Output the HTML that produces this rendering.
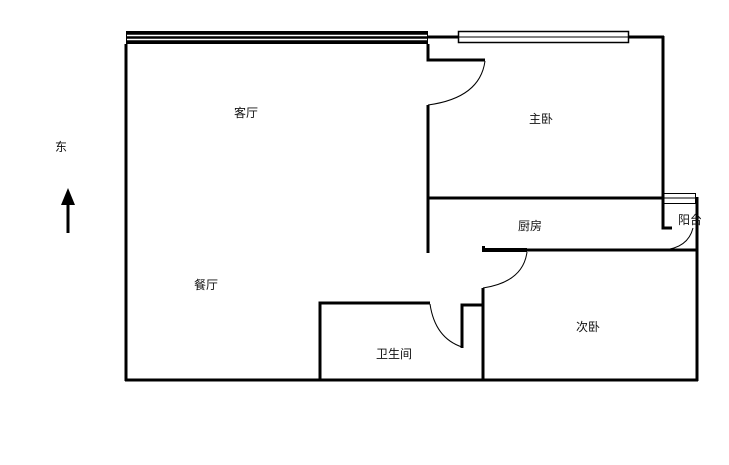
<!DOCTYPE html>
<html><head><meta charset="utf-8"><style>html,body{margin:0;padding:0;background:#fff}svg{display:block}text{font-family:"Liberation Sans","Noto Sans CJK SC",sans-serif;font-size:12px;fill:#111;text-anchor:middle}</style></head><body>
<svg width="729" height="465" viewBox="0 0 729 465" xmlns="http://www.w3.org/2000/svg">
<g stroke="#000" fill="none">
<rect x="126" y="31" width="302" height="13" fill="#000" stroke="none"/>
<line x1="127" y1="35.5" x2="427" y2="35.5" stroke="#fff" stroke-width="1.5"/>
<line x1="127" y1="39.5" x2="427" y2="39.5" stroke="#fff" stroke-width="1.5"/>
<line x1="428" y1="37" x2="458" y2="37" stroke-width="3"/>
<rect x="458.5" y="31.5" width="170" height="11" stroke-width="1.5"/>
<line x1="459" y1="37" x2="628" y2="37" stroke-width="1"/>
<line x1="628" y1="37" x2="664" y2="37" stroke-width="3"/>
<line x1="663" y1="36" x2="663" y2="198" stroke-width="3"/>
<line x1="126" y1="44" x2="126" y2="381" stroke-width="3"/>
<line x1="125" y1="380" x2="698" y2="380" stroke-width="3"/>
<polyline points="428,44 428,60 485,60" stroke-width="3"/>
<path d="M485,61 Q480,98 428,105" stroke-width="1"/>
<line x1="428" y1="105" x2="428" y2="253" stroke-width="3"/>
<line x1="428" y1="198" x2="663" y2="198" stroke-width="3"/>
<rect x="663.5" y="193.5" width="32" height="10" stroke-width="1"/>
<line x1="664" y1="198" x2="696" y2="198" stroke-width="1"/>
<line x1="697" y1="197" x2="697" y2="381" stroke-width="3"/>
<polyline points="663,198 663,228 672,228" stroke-width="3"/>
<path d="M693,228 Q688,248 663,250" stroke-width="1"/>
<line x1="483" y1="250" x2="527" y2="250" stroke-width="4"/>
<line x1="527" y1="250" x2="697" y2="250" stroke-width="3"/>
<line x1="483.5" y1="246" x2="483.5" y2="252" stroke-width="3"/>
<path d="M527,252 Q523,282 483,288" stroke-width="1"/>
<line x1="483" y1="288" x2="483" y2="380" stroke-width="3"/>
<polyline points="320,380 320,303 430,303" stroke-width="3"/>
<path d="M430,304 Q435,338 462,347" stroke-width="1"/>
<polyline points="462,348 462,305 483,305" stroke-width="3"/>
<line x1="68" y1="233" x2="68" y2="200" stroke-width="3"/>
<polygon points="68,188 61,205 75,205" fill="#000" stroke="none"/>
</g>
<text x="246" y="117">客厅</text>
<text x="541" y="123">主卧</text>
<text x="530" y="230">厨房</text>
<text x="690" y="224">阳台</text>
<text x="206" y="289">餐厅</text>
<text x="394" y="358">卫生间</text>
<text x="588" y="331">次卧</text>
<text x="61" y="151">东</text>
</svg>
</body></html>
